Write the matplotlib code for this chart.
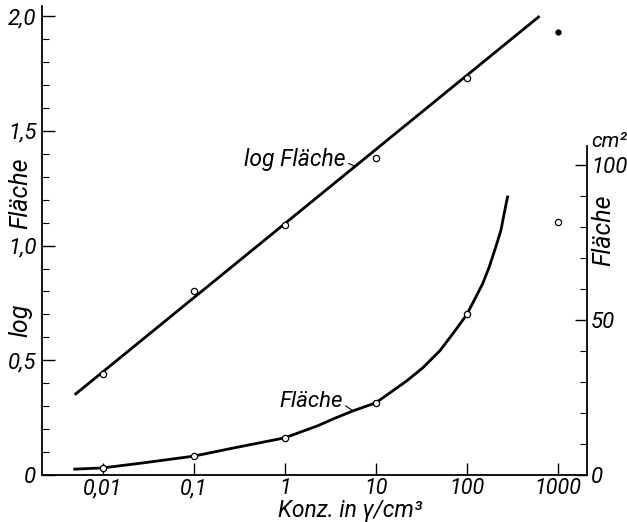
import matplotlib
matplotlib.use('Agg')
import matplotlib.pyplot as plt
import numpy as np

plt.rcParams['font.family'] = ['Roboto', 'DejaVu Sans']
plt.rcParams['font.style'] = 'italic'

# measured points, x = concentration in gamma/cm3
konz = [0.01, 0.1, 1, 10, 100]
log_flaeche = [0.44, 0.80, 1.09, 1.38, 1.73]
flaeche = [2.3, 6.1, 12.0, 23.3, 51.8]
konz_extra = [1000]
log_flaeche_extra = [1.93]
flaeche_extra = [81.5]

# drawn straight line through log values
log_line_x = [0.0049, 630]
log_line_y = [0.35, 2.0]

# drawn curve for Flaeche (cm2)
curve_x = [0.0049, 0.01, 0.0275, 0.1, 0.27, 1, 2.3, 3.4, 5.6, 10, 21.9, 32.8,
           50.5, 70.2, 100, 120, 149, 176, 208, 237, 257, 280]
curve_y = [1.9, 2.3, 3.9, 6.1, 8.7, 12.0, 15.9, 18.1, 20.7, 23.3, 30.4, 34.6,
           40.1, 45.6, 51.8, 56.3, 61.7, 67.1, 73.6, 79.0, 84.4, 89.7]

x_ticks = [0.01, 0.1, 1, 10, 100, 1000]
x_labels = ['0,01', '0,1', '1', '10', '100', '1000']
left_ticks = [0, 0.5, 1.0, 1.5, 2.0]
left_labels = ['0', '0,5', '1,0', '1,5', '2,0']
right_ticks = [0, 50, 100]
right_labels = ['0', '50', '100']

fig = plt.figure(figsize=(6.27, 5.22), dpi=100)
ax = fig.add_axes([0.067, 0.090, 0.869, 0.8985])
ax2 = ax.twinx()

ax.set_xscale('log')
ax.set_xlim(0.00214, 2084)
ax.set_ylim(0, 2.044)
ax2.set_ylim(0, 151.3)

ax.plot(log_line_x, log_line_y, color='black', lw=2.0, solid_capstyle='butt')
ax.plot(konz, log_flaeche, 'o', ms=4.5, mfc='white', mec='black', mew=0.9)
ax.plot(konz_extra, log_flaeche_extra, 'o', ms=3.5, color='black')

ax2.plot(curve_x, curve_y, color='black', lw=2.0, solid_joinstyle='round')
ax2.plot(konz, flaeche, 'o', ms=4.5, mfc='white', mec='black', mew=0.9)
ax2.plot(konz_extra, flaeche_extra, 'o', ms=4.5, mfc='white', mec='black', mew=0.9)

# spines
for a in (ax, ax2):
    a.spines['top'].set_visible(False)
ax.spines['right'].set_visible(False)
ax2.spines['left'].set_visible(False)
ax2.spines['bottom'].set_visible(False)
ax2.spines['right'].set_bounds(0, 106)
for s in ('left', 'bottom'):
    ax.spines[s].set_linewidth(1.3)
ax2.spines['right'].set_linewidth(1.3)

ax.set_xticks(x_ticks)
ax.set_xticklabels(x_labels)
ax.minorticks_off()
ax.set_yticks(left_ticks)
ax.set_yticklabels(left_labels)
ax.set_yticks(np.arange(0, 2.01, 0.1), minor=True)
ax.tick_params(axis='x', which='major', direction='in', length=9, width=1, labelsize=15.5, pad=2.5)
ax.tick_params(axis='y', which='major', direction='in', length=9, width=1, labelsize=16, pad=4)
ax.tick_params(axis='y', which='minor', direction='in', length=5, width=0.8)

ax2.set_yticks(right_ticks)
ax2.set_yticklabels(right_labels)
ax2.set_yticks(np.arange(0, 101, 10), minor=True)
ax2.tick_params(axis='y', which='major', direction='in', length=9, width=1, labelsize=16, pad=3)
ax2.tick_params(axis='y', which='minor', direction='in', length=5, width=0.8)

ax.set_xlabel('Konz. in γ/cm³', fontsize=16.5, labelpad=0)
ax.xaxis.set_label_coords(0.566, -0.051)

# axis titles
fig.text(0.032, 0.387, 'log', rotation=90, fontsize=18, ha='center', va='center')
fig.text(0.032, 0.630, 'Fläche', rotation=90, fontsize=18, ha='center', va='center')
fig.text(0.962, 0.559, 'Fläche', rotation=90, fontsize=18, ha='center', va='center')
fig.text(0.972, 0.728, 'cm²', fontsize=15, ha='center', va='center')

# curve labels with small leaders
ax.annotate('log Fläche', xy=(6.0, 0.35 + (np.log10(6.0) - np.log10(0.0049)) * 0.322),
            xytext=(0.464, 0.672), textcoords='axes fraction', fontsize=16.5,
            ha='center', va='center',
            arrowprops=dict(arrowstyle='-', color='black', lw=0.8, shrinkA=0, shrinkB=0,
                            relpos=(1.0, 0.4)))
ax2.annotate('Fläche', xy=(5.6, 20.7),
             xytext=(0.494, 0.156), textcoords='axes fraction', fontsize=16,
             ha='center', va='center',
             arrowprops=dict(arrowstyle='-', color='black', lw=0.8, shrinkA=0, shrinkB=0,
                             relpos=(1.0, 0.4)))

fig.savefig('out.png', dpi=100, facecolor='white')
